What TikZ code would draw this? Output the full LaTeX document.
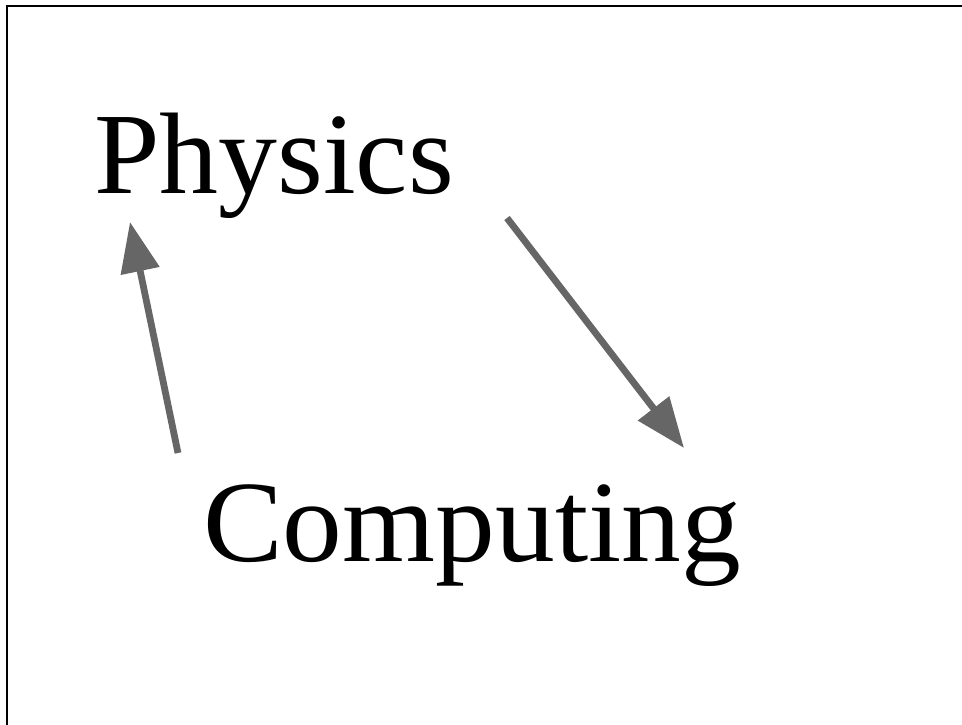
\documentclass[tikz,border=0pt]{standalone}
\usepackage{fontspec}
\setmainfont{Liberation Serif}
\usetikzlibrary{arrows.meta}
\definecolor{arrowgray}{HTML}{666666}
\tikzset{
  label/.style={inner sep=0pt, anchor=base west, font=\fontsize{116}{116}\selectfont},
  conn/.style={draw=arrowgray, line width=6.8pt, -{Triangle[length=50pt,width=38pt]}}
}
\begin{document}
\begin{tikzpicture}[x=1pt,y=-1pt]
\useasboundingbox (0,0) rectangle (962,724);
\fill[white] (0,0) rectangle (962,724);
\begin{scope}
\clip (0,0) rectangle (962,724);
\draw[line width=2.4pt] (7,6) rectangle (980,740);
\end{scope}
\node[label, xscale=1.015] (phys) at (94,193) {Physics};
\node[label, xscale=1.03] (comp) at (203,561) {Computing};
\coordinate (a1s) at (178,453);
\coordinate (a1e) at (130,222);
\coordinate (a2s) at (507,218);
\coordinate (a2e) at (684,448);
\draw[conn] (a1s) -- (a1e);
\draw[conn] (a2s) -- (a2e);
\end{tikzpicture}
\end{document}
